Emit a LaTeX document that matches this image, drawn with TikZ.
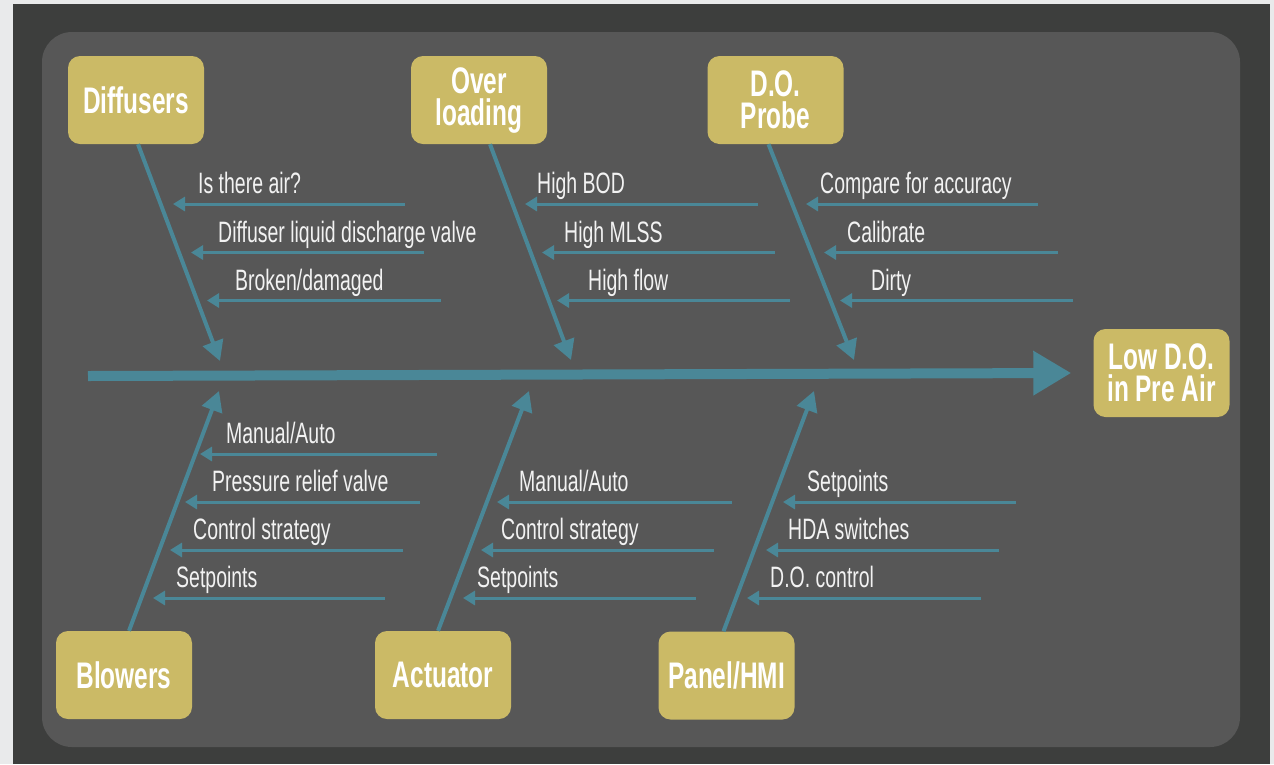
\documentclass[tikz,border=0pt]{standalone}
\usepackage{fontspec}
\usetikzlibrary{arrows.meta}
\newfontfamily\fishfont[FakeStretch=0.66]{Liberation Sans}
\definecolor{pagegray}{HTML}{E9EAEB}
\definecolor{framegray}{HTML}{3D3E3D}
\definecolor{panelgray}{HTML}{575757}
\definecolor{bonecol}{HTML}{4A8797}
\definecolor{boxgold}{HTML}{CBBA66}
\definecolor{labelwhite}{HTML}{F2F2F2}
\tikzset{
  catbox/.style={fill=boxgold, rounded corners=12pt, minimum width=136pt,
    minimum height=88pt, inner sep=0pt, align=center, text=white,
    font=\fishfont\bfseries\fontsize{37}{32}\selectfont},
  spine/.style={draw=bonecol, line width=10pt,
    -{Triangle[length=38pt,width=42pt]}},
  bone/.style={draw=bonecol, line width=4pt,
    -{Triangle[length=20pt,width=21pt]}},
  cause/.style={draw=bonecol, line width=3pt,
    -{Triangle[length=12pt,width=14pt]}},
  causelabel/.style={anchor=base west, inner sep=0pt, text=labelwhite,
    font=\fishfont\fontsize{29.5}{32}\selectfont},
}
\begin{document}
\begin{tikzpicture}[x=1pt,y=-1pt]
% page, frame and panel
\fill[pagegray] (0,0) rectangle (1274,764);
\fill[framegray] (13,4) rectangle (1270,764);
\fill[panelgray, rounded corners=30pt] (42,32) rectangle (1240,747);
\useasboundingbox (0,0) rectangle (1274,764);

% effect and categories
\node[catbox] (effect) at (1161.5,373) {Low D.O.\\in Pre Air};
\node[catbox] (dif) at (136,100) {Diffusers};
\node[catbox] (ovl) at (479,100) {Over\\loading};
\node[catbox] (dop) at (775.5,100) {D.O.\\Probe};
\node[catbox] (blo) at (124,675) {Blowers};
\node[catbox] (act) at (443,675) {Actuator};
\node[catbox] (pan) at (726.5,675.5) {Panel/HMI};

% spine
\coordinate (tail) at (88,376);
\draw[spine] (tail) -- ([xshift=-22pt]effect.west);

% bones
\coordinate (difT) at (220,361);
\coordinate (ovlT) at (571,360);
\coordinate (dopT) at (854,360);
\coordinate (bloT) at (219,391);
\coordinate (actT) at (529,391);
\coordinate (panT) at (814,391);
\draw[bone] ([xshift=2pt]dif.south) -- (difT);
\draw[bone] ([xshift=11pt]ovl.south) -- (ovlT);
\draw[bone] ([xshift=-7pt]dop.south) -- (dopT);
\draw[bone] ([xshift=5pt]blo.north) -- (bloT);
\draw[bone] ([xshift=-5pt]act.north) -- (actT);
\draw[bone] ([xshift=-3pt]pan.north) -- (panT);

% causes: start, end, label
\foreach \n/\xs/\xe/\yy/\xt/\txt in {
  a1/405/173/204/198/{Is there air?},
  a2/424/191/252.5/218/{Diffuser liquid discharge valve},
  a3/441/207/300.5/235/{Broken/damaged},
  b1/758/525/204/537/{High BOD},
  b2/775/542/252.5/564/{High MLSS},
  b3/790/557/300.5/588/{High flow},
  c1/1038/806/204/820/{Compare for accuracy},
  c2/1058/824/252.5/847/{Calibrate},
  c3/1073/840/300.5/871/{Dirty},
  d1/437/200/454/226/{Manual/Auto},
  d2/420/185/502/212/{Pressure relief valve},
  d3/403/170/550/193/{Control strategy},
  d4/385/153/598/176/{Setpoints},
  e1/732/497/502/519/{Manual/Auto},
  e2/714/481/550/501/{Control strategy},
  e3/696/463/598/477/{Setpoints},
  f1/1016/783/502/807/{Setpoints},
  f2/999/766/550/788/{HDA switches},
  f3/981/747/598/770/{D.O. control}} {
  \coordinate (\n s) at (\xe,\yy);
  \coordinate (\n e) at (\xs,\yy);
  \draw[cause] (\n e) -- (\n s);
  \node[causelabel] (\n l) at (\xt,\yy-10.5) {\txt};
}
\end{tikzpicture}
\end{document}
